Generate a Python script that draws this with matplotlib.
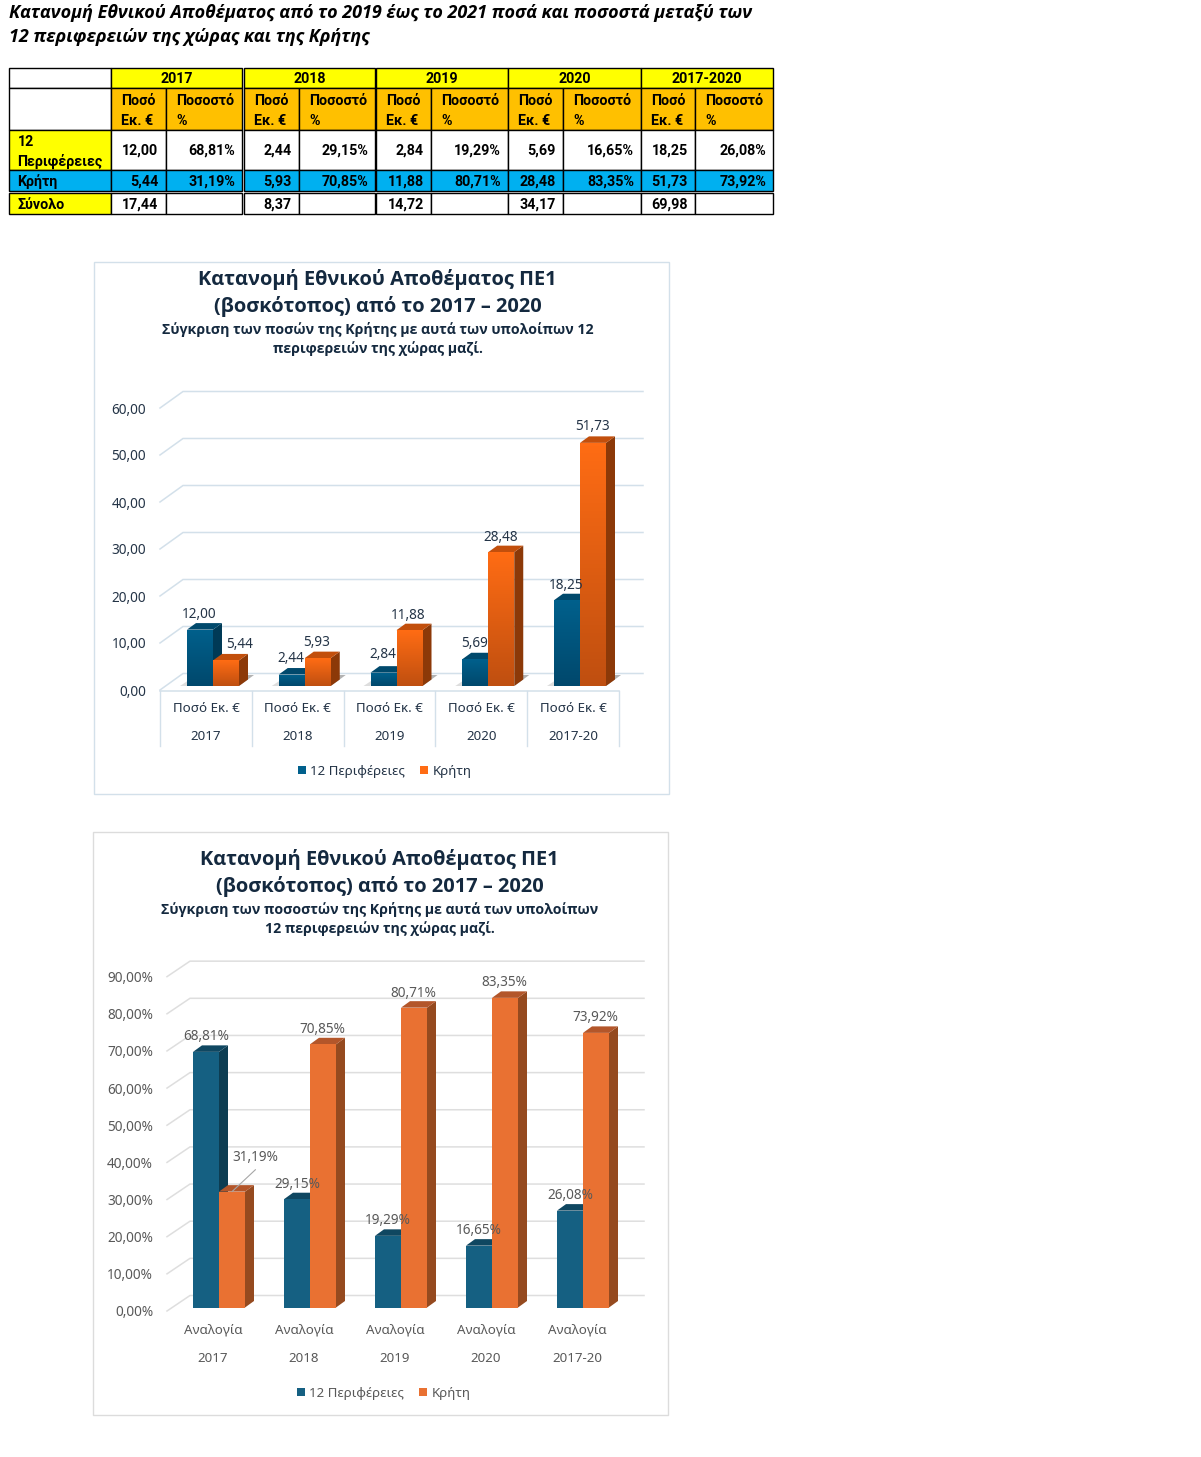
# -*- coding: utf-8 -*-
import numpy as np
import matplotlib
matplotlib.use("Agg")
import matplotlib.pyplot as plt
from matplotlib.patches import Rectangle, Polygon
from matplotlib.transforms import ScaledTranslation

W, H = 1201, 1457

# data
years = ["2017", "2018", "2019", "2020", "2017-2020"]
years_short = ["2017", "2018", "2019", "2020", "2017-20"]
poso_12 = [12.00, 2.44, 2.84, 5.69, 18.25]
poso_kriti = [5.44, 5.93, 11.88, 28.48, 51.73]
pct_12 = [68.81, 29.15, 19.29, 16.65, 26.08]
pct_kriti = [31.19, 70.85, 80.71, 83.35, 73.92]
totals = [17.44, 8.37, 14.72, 34.17, 69.98]
series_names = ["12 Περιφέρειες", "Κρήτη"]

poso_ticks = [0, 10, 20, 30, 40, 50, 60]
pct_ticks = [0, 10, 20, 30, 40, 50, 60, 70, 80, 90]

main_title = ["Κατανομή Εθνικού Αποθέματος από το 2019 έως το 2021 ποσά και ποσοστά μεταξύ των",
              "12 περιφερειών της χώρας και της Κρήτης"]
title_1 = ["Κατανομή Εθνικού Αποθέματος ΠΕ1", "(βοσκότοπος) από το 2017 – 2020"]
sub_1 = ["Σύγκριση των ποσών της Κρήτης με αυτά των υπολοίπων 12", "περιφερειών της χώρας μαζί."]
title_2 = ["Κατανομή Εθνικού Αποθέματος ΠΕ1", "(βοσκότοπος) από το 2017 – 2020"]
sub_2 = ["Σύγκριση των ποσοστών της Κρήτης με αυτά των υπολοίπων", "12 περιφερειών της χώρας μαζί."]

# label offsets from the top of each bar, in pixels
poso_off_12 = [(-1, 15), (-1, 16), (-1, 18), (-1, 16), (-1, 15)]
poso_off_kr = [(14, 16), (-1, 16), (-1, 15), (-1, 15), (-1, 16)]
pct_off_12 = [(0, 15), (0, 15), (0, 15), (0, 15), (0, 15)]
pct_off_kr = [(23, 34), (-1, 15), (-1, 14), (-1, 15), (-1, 15)]

FONT = "Noto Sans"
BOLD_FONT = "Open Sans"


def comma(v, pct=False):
    return f"{v:.2f}".replace(".", ",") + ("%" if pct else "")


fig = plt.figure(figsize=(W / 100, H / 100), dpi=100, facecolor="white")

# page layer in pixel coordinates, for the table and the panels
page = fig.add_axes([0, 0, 1, 1])
page.set_xlim(0.6, W + 0.6)
page.set_ylim(H + 0.6, 0.6)
page.axis("off")

for i, line in enumerate(main_title):
    page.text(9.5, 14 + 24 * i, line, fontsize=13, family=BOLD_FONT, style="italic",
              weight="bold", va="center", color="black")

#%% table
col_left = [111.5, 244.5, 377, 509, 641.5]
col_mid = [166.5, 299.5, 432, 564, 696]
col_right = [243, 376, 508.5, 641.5, 774]


def cell(x0, y0, x1, y1, color="white"):
    page.add_patch(Rectangle((x0, y0 + 0.6), x1 - x0, y1 - y0, fc=color, ec="black", lw=1))


def ttext(x, y, s, ha="left"):
    page.text(x, y + 1.2, s, fontsize=10.3, family="Roboto", weight="bold", ha=ha, va="center", color="black")


cell(9.5, 67.5, 111.5, 88)
cell(9.5, 88, 111.5, 129.5)
cell(9.5, 129.5, 111.5, 169.5, "#ffff00")
cell(9.5, 169.5, 111.5, 190.5, "#00b0f0")
cell(9.5, 192.5, 111.5, 214, "#ffff00")
ttext(18, 141, "12")
ttext(18, 161, "Περιφέρειες")
ttext(18, 181, "Κρήτη")
ttext(18, 204, "Σύνολο")

for i in range(5):
    l, m, r = col_left[i], col_mid[i], col_right[i]
    cell(l, 67.5, r, 88, "#ffff00")
    ttext((l + r) / 2, 78.5, years[i], ha="center")
    for a, b, c in [(l, m, "#ffc000"), (m, r, "#ffc000")]:
        cell(a, 88, b, 129.5, c)
    ttext(l + 10, 100, "Ποσό")
    ttext(l + 10, 120, "Εκ. €")
    ttext(m + 10, 100, "Ποσοστό")
    ttext(m + 10, 120, "%")
    for a, b in [(l, m), (m, r)]:
        cell(a, 129.5, b, 169.5)
        cell(a, 169.5, b, 190.5, "#00b0f0")
        cell(a, 192.5, b, 214)
    ttext(m - 7.5, 150, comma(poso_12[i]), ha="right")
    ttext(r - 7, 150, comma(pct_12[i], True), ha="right")
    ttext(m - 7.5, 181, comma(poso_kriti[i]), ha="right")
    ttext(r - 7, 181, comma(pct_kriti[i], True), ha="right")
    ttext(m - 7.5, 204, comma(totals[i]), ha="right")

#%% panels
page.add_patch(Rectangle((94.5, 262.5), 575, 532, fc="white", ec="#d3e0ea", lw=1))
page.add_patch(Rectangle((93.5, 832.5), 575, 583, fc="white", ec="#dcdcdc", lw=1))

for i, line in enumerate(title_1):
    page.text(378, 280 + 27 * i, line, fontsize=14.4, family=BOLD_FONT, weight="bold",
              ha="center", va="center", color="#14293f")
for i, line in enumerate(sub_1):
    page.text(378.5, 330 + 19.5 * i, line, fontsize=10.2, family=BOLD_FONT, weight="bold",
              ha="center", va="center", color="#14293f")
for i, line in enumerate(title_2):
    page.text(380, 860 + 27 * i, line, fontsize=14.4, family=BOLD_FONT, weight="bold",
              ha="center", va="center", color="#14293f")
for i, line in enumerate(sub_2):
    page.text(380.5, 910 + 19.5 * i, line, fontsize=10.2, family=BOLD_FONT, weight="bold",
              ha="center", va="center", color="#14293f")


def px_offset(x, y):
    return ScaledTranslation(x / 72 * 0.72, y / 72 * 0.72, fig.dpi_scale_trans)


def bars_3d(ax, x_pos, vals, width, depth, rise, front, side, top, gradient, name, z):
    # front face goes through ax.bar, the side and top faces are built from it
    bc = ax.bar(x_pos, vals, width, color=front[0], zorder=z + 1, label=name, clip_on=False)
    for rect in bc:
        x0, x1 = rect.get_x(), rect.get_x() + rect.get_width()
        h = rect.get_height()
        ax.add_patch(Polygon([(x1, 0), (x1 + depth, rise), (x1 + depth, h + rise), (x1, h)],
                             fc=side, ec="none", zorder=z, clip_on=False))
        ax.add_patch(Polygon([(x0, h), (x0 + depth, h + rise), (x1 + depth, h + rise), (x1, h)],
                             fc=top, ec="none", zorder=z, clip_on=False))
        if gradient:
            c0 = np.array(matplotlib.colors.to_rgb(front[0]))
            c1 = np.array(matplotlib.colors.to_rgb(front[1]))
            grad = np.linspace(0, 1, 64)[:, None, None] * (c1 - c0) + c0
            im = ax.imshow(grad, extent=(x0, x1, 0, h), origin="upper", aspect="auto", zorder=z + 1.5)
            im.set_clip_path(rect)
    return bc


def draw_chart(box, x_zero, spacing, px_unit, y_zero, vals_a, vals_b, off_a, off_b, pct, ticks,
               back_dx, back_dy, grid_color, text_color, colors, gradient, tick_drop):
    left, top, right, bottom = box
    ax = fig.add_axes([left / W, 1 - bottom / H, (right - left) / W, (bottom - top) / H])
    ax.patch.set_alpha(0)
    ax.set_xlim((left - x_zero) / spacing, (right - x_zero) / spacing)
    ax.set_ylim((y_zero - bottom) / px_unit, (y_zero - top) / px_unit)
    for s in ax.spines.values():
        s.set_visible(False)

    # walls: front end of each gridline sits on the left edge, back line runs across
    drop = tick_drop / px_unit
    xl = ax.get_xlim()
    for t in ticks:
        y_front = t - drop
        ax.plot([xl[0], xl[0] + back_dx / spacing, xl[1]],
                [y_front, y_front + back_dy / px_unit, y_front + back_dy / px_unit],
                color=grid_color, lw=1.1, zorder=1, clip_on=False, solid_joinstyle="miter")

    x = np.arange(len(vals_a))
    w = 26 / spacing
    d = 9 / spacing
    r = 6.5 / px_unit
    ca, cb = colors
    bc_a = bars_3d(ax, x - w / 2, vals_a, w, d, r, ca[0], ca[1], ca[2], gradient, series_names[0], 2)
    bc_b = bars_3d(ax, x + w / 2, vals_b, w, d, r, cb[0], cb[1], cb[2], gradient, series_names[1], 4)

    ax.set_xlim(xl)
    ax.set_ylim((y_zero - bottom) / px_unit, (y_zero - top) / px_unit)

    ax.set_xticks([])
    ax.set_yticks(ticks)
    ax.set_yticklabels([comma(t, pct) for t in ticks], family=FONT, fontsize=9.8, color=text_color)
    ax.tick_params(axis="y", length=0, pad=10)
    for lab in ax.get_yticklabels():
        lab.set_transform(lab.get_transform() + px_offset(0, -tick_drop))

    for vals, offs, xs in [(vals_a, off_a, x - w / 2), (vals_b, off_b, x + w / 2)]:
        for xx, v, o in zip(xs, vals, offs):
            ax.annotate(comma(v, pct), (xx, v), xytext=(o[0] * 0.72, o[1] * 0.72), textcoords="offset points",
                        ha="center", va="center", family=FONT, fontsize=9.8, color=text_color,
                        zorder=10, annotation_clip=False)
    return ax, x, bc_a, bc_b


#%% chart 1
cols_1 = [(("#00608c", "#00486c"), "#003a56", "#00496c"), (("#ff6c14", "#bf4f10"), "#8c3908", "#c24f0c")]
ax1, x1, a1, b1 = draw_chart((160, 392, 643, 691), 213, 91.75, 4.7, 686, poso_12, poso_kriti,
                             poso_off_12, poso_off_kr, False, poso_ticks, 23, 16.5,
                             "#d3e0ea", "#243447", cols_1, True, 4)

# soft shadow on the floor behind the bars
sx_px, sy_u = 1 / 91.75, 1 / 4.7
for xx in x1:
    right = xx + 26 * sx_px
    ax1.add_patch(Polygon([(right, 0), (right + 15 * sx_px, 11 * sy_u), (right + 6 * sx_px, 11 * sy_u)],
                          fc="#7f7f7f", ec="none", alpha=0.6, zorder=1.5, clip_on=False))
    ax1.add_patch(Polygon([(xx - 26 * sx_px, 0), (xx - 33 * sx_px, 0), (xx - 24 * sx_px, 6 * sy_u)],
                          fc="#bdbdbd", ec="none", alpha=0.5, zorder=1.5, clip_on=False))

# floor edge, separators and two-level category labels
sep_bottom = -60 / 4.7
sep_x = [-0.5 - 7 / 91.75 + i for i in range(6)]
ax1.plot([sep_x[0], sep_x[-1]], [-5 / 4.7, -5 / 4.7], color="#d3e0ea", lw=1.1, clip_on=False, zorder=1)
for sx in sep_x:
    ax1.plot([sx, sx], [-5 / 4.7, sep_bottom], color="#d3e0ea", lw=1, clip_on=False, zorder=1)
for xx, yr in zip(x1, years_short):
    ax1.annotate("Ποσό Εκ. €", (xx, 0), xytext=(-7 * .72, -23 * .72), textcoords="offset points", ha="center",
                 va="center", family=FONT, fontsize=9.6, color="#243447", annotation_clip=False)
    ax1.annotate(yr, (xx, 0), xytext=(-7 * .72, -51 * .72), textcoords="offset points", ha="center",
                 va="center", family=FONT, fontsize=9.6, color="#243447", annotation_clip=False)
fig.legend([a1, b1], series_names, loc="center", bbox_to_anchor=(384.5 / W, 1 - 771 / H), ncol=2, frameon=False,
           handlelength=0.6, handleheight=0.6, handletextpad=0.35, columnspacing=1.1,
           prop={"family": FONT, "size": 9.6}, labelcolor="#243447")

#%% chart 2
cols_2 = [(("#156082", "#156082"), "#0d3d52", "#0f4761"), (("#e97132", "#e97132"), "#954a1f", "#b3562a")]
ax2, x2, a2, b2 = draw_chart((167, 962, 644, 1312), 219, 91, 3.715, 1307.5, pct_12, pct_kriti,
                             pct_off_12, pct_off_kr, True, pct_ticks, 23, 15.5,
                             "#dedede", "#595959", cols_2, False, 3.5)

# leader line of the 31,19% label
ax2.annotate("", (0 + 13 / 91, pct_kriti[0]), xytext=(23.5 * .72, 22 * .72), textcoords="offset points",
             arrowprops=dict(arrowstyle="-", color="#a6a6a6", lw=0.8, shrinkA=0, shrinkB=0), zorder=10,
             annotation_clip=False)

for xx, yr in zip(x2, years_short):
    ax2.annotate("Αναλογία", (xx, 0), xytext=(-6 * .72, -23 * .72), textcoords="offset points", ha="center",
                 va="center", family=FONT, fontsize=9.6, color="#595959", annotation_clip=False)
    ax2.annotate(yr, (xx, 0), xytext=(-6 * .72, -51 * .72), textcoords="offset points", ha="center",
                 va="center", family=FONT, fontsize=9.6, color="#595959", annotation_clip=False)
fig.legend([a2, b2], series_names, loc="center", bbox_to_anchor=(383.5 / W, 1 - 1393 / H), ncol=2, frameon=False,
           handlelength=0.6, handleheight=0.6, handletextpad=0.35, columnspacing=1.1,
           prop={"family": FONT, "size": 9.6}, labelcolor="#595959")

fig.savefig("out.png", dpi=100)
